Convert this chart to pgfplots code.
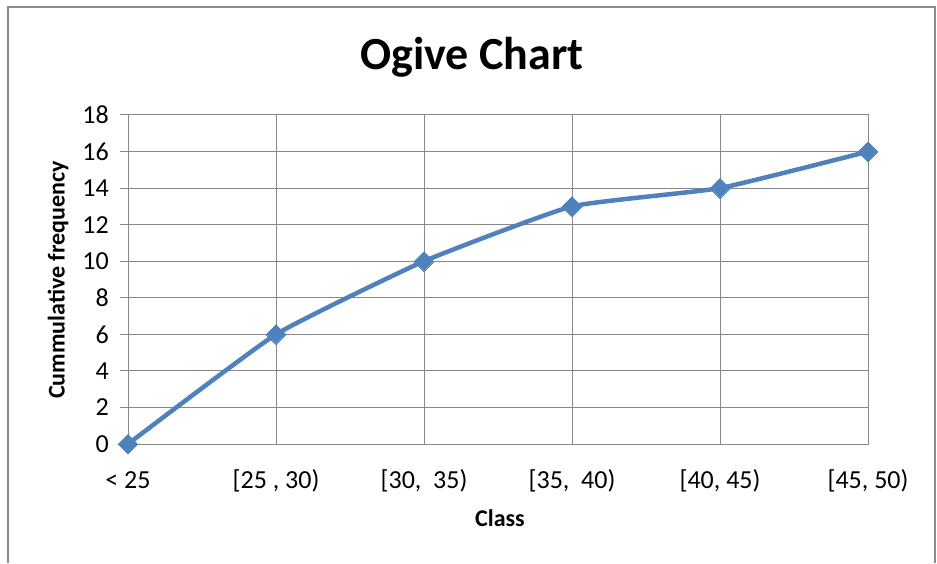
\documentclass[border=0pt]{standalone}
\usepackage{pgfplots}
\pgfplotsset{compat=1.18}
\usepackage{fontspec}
\setmainfont{Carlito}
\definecolor{ser}{HTML}{4F81BD}
\definecolor{grd}{HTML}{888888}
\definecolor{frm}{HTML}{8C8C8C}
\begin{document}
\begin{tikzpicture}[x=1pt,y=1pt]
\useasboundingbox (0,0) rectangle (937,563);
\draw[color=frm, line width=2pt] (8,0) -- (8,556) -- (935,556) -- (935,0);
\begin{axis}[
  at={(128pt,119pt)}, anchor=south west,
  scale only axis, width=740pt, height=329pt,
  xmin=0, xmax=5, ymin=0, ymax=18,
  xtick={0,1,2,3,4,5},
  xticklabels={{< 25},{[25 , 30)},{[30,\ \ 35)},{[35,\ \ 40)},{[40, 45)},{[45, 50)}},
  ytick={0,2,...,18},
  tick pos=left,
  grid=major,
  grid style={color=grd, line width=1pt},
  axis line style={color=grd, line width=1pt},
  tick align=outside,
  major tick length=8pt,
  xtick style={draw=none},
  ytick style={color=grd, line width=1pt},
  /pgf/number format/assume math mode=true,
  tick label style={font=\fontsize{26}{30}\selectfont, text=black},
  yticklabel style={inner sep=0pt, xshift=-11pt},
  xticklabel style={inner sep=0pt, anchor=base, yshift=-36pt},
  clip=false,
]
\addplot[color=ser, line width=4.5pt, smooth, tension=0.25, mark=square*, mark size=7pt, mark options={fill=ser, draw=ser, line width=0pt, rotate=45}]
coordinates {(0,0) (1,6) (2,10) (3,13) (4,14) (5,16)};
\end{axis}
\node[font=\fontsize{46}{52}\selectfont\bfseries] at (472,506) {Ogive Chart};
\node[font=\fontsize{24}{28}\selectfont\bfseries, rotate=90] at (58,283) {Cummulative frequency};
\node[font=\fontsize{24}{28}\selectfont\bfseries] at (500,45) {Class};
\end{tikzpicture}
\end{document}
